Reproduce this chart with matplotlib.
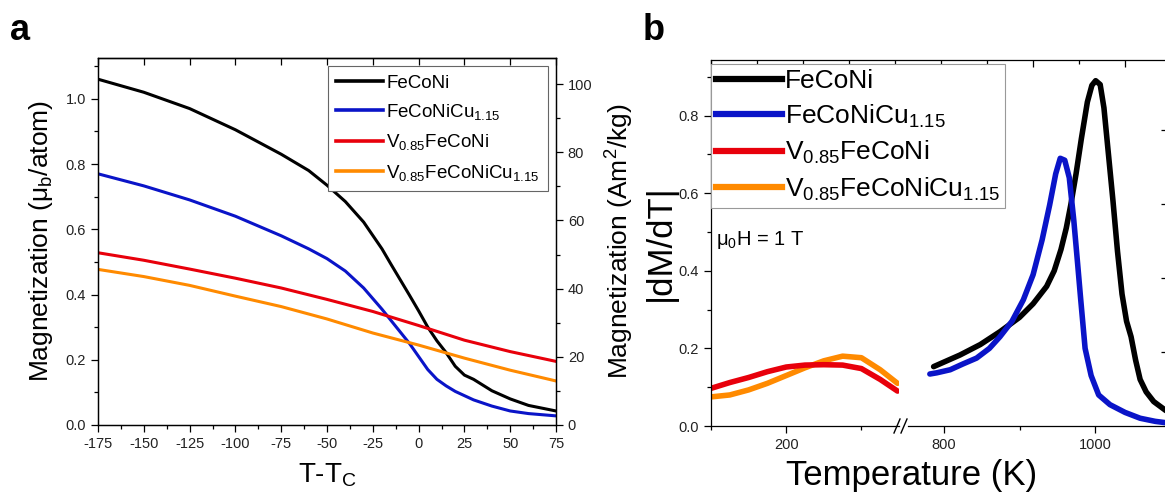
import numpy as np
import matplotlib
matplotlib.use('Agg')
import matplotlib.pyplot as plt
from matplotlib.ticker import MultipleLocator, FormatStrFormatter
from matplotlib.lines import Line2D

plt.rcParams['font.family'] = ['Liberation Sans', 'DejaVu Sans']
plt.rcParams['mathtext.fontset'] = 'custom'
plt.rcParams['mathtext.rm'] = 'Liberation Sans'
plt.rcParams['mathtext.it'] = 'Liberation Sans:italic'
plt.rcParams['mathtext.bf'] = 'Liberation Sans:bold'
plt.rcParams['axes.linewidth'] = 0.9
plt.rcParams['axes.unicode_minus'] = False

# ---- panel a data: magnetization vs T-Tc
t_feconi = [-175, -150, -125, -100, -75, -60, -50, -40, -30, -20, -15, -10, -5, 0, 5, 10, 15, 20, 25, 30, 40, 50, 60, 75]
m_feconi = [1.06, 1.02, 0.97, 0.905, 0.83, 0.78, 0.735, 0.685, 0.622, 0.54, 0.492, 0.445, 0.398, 0.35, 0.30, 0.258, 0.222, 0.18, 0.153, 0.14, 0.105, 0.08, 0.06, 0.043]
t_cu = [-175, -150, -125, -100, -75, -60, -50, -40, -30, -20, -10, -5, 0, 5, 10, 15, 20, 30, 40, 50, 60, 75]
m_cu = [0.77, 0.733, 0.69, 0.64, 0.58, 0.54, 0.51, 0.472, 0.42, 0.355, 0.285, 0.25, 0.21, 0.17, 0.14, 0.12, 0.103, 0.077, 0.058, 0.043, 0.035, 0.028]
t_v = [-175, -150, -125, -100, -75, -50, -25, 0, 25, 50, 75]
m_v = [0.528, 0.505, 0.478, 0.45, 0.42, 0.385, 0.348, 0.305, 0.26, 0.225, 0.195]
m_vcu = [0.477, 0.455, 0.428, 0.395, 0.363, 0.325, 0.282, 0.245, 0.205, 0.168, 0.135]

# ---- panel b data: |dM/dT| vs temperature
tb_low = [100, 125, 150, 175, 200, 225, 250, 275, 300, 325, 348]
d_v = [0.097, 0.112, 0.125, 0.14, 0.152, 0.157, 0.158, 0.157, 0.148, 0.12, 0.09]
d_vcu = [0.075, 0.08, 0.093, 0.11, 0.13, 0.15, 0.168, 0.18, 0.176, 0.145, 0.11]
tb_feconi = [786, 800, 821, 848, 874, 900, 918, 936, 946, 955, 962, 968, 975, 982, 990, 996, 1001, 1007,
             1012, 1018, 1024, 1030, 1036, 1042, 1048, 1054, 1060, 1068, 1078, 1094, 1100]
d_feconi = [0.153, 0.165, 0.183, 0.21, 0.243, 0.28, 0.315, 0.36, 0.40, 0.455, 0.51, 0.57, 0.65, 0.74, 0.835, 0.878, 0.89, 0.88,
            0.82, 0.70, 0.58, 0.45, 0.34, 0.27, 0.23, 0.17, 0.12, 0.088, 0.063, 0.04, 0.035]
tb_cu = [781, 790, 808, 825, 843, 860, 874, 890, 905, 918, 930, 940, 948, 954, 960, 966, 972, 977, 981, 987,
         995, 1005, 1020, 1040, 1060, 1080, 1100]
d_cu = [0.134, 0.137, 0.145, 0.16, 0.175, 0.2, 0.23, 0.27, 0.325, 0.39, 0.48, 0.57, 0.65, 0.69, 0.685, 0.64, 0.53, 0.42, 0.33, 0.2,
        0.13, 0.08, 0.055, 0.035, 0.02, 0.012, 0.007]

labels = ['FeCoNi', r'FeCoNiCu$_{\mathregular{1.15}}$', r'V$_{\mathregular{0.85}}$FeCoNi',
          r'V$_{\mathregular{0.85}}$FeCoNiCu$_{\mathregular{1.15}}$']
colors = ['black', '#0a14c8', '#e8000b', '#ff8a00']

W, H = 1165, 499
def box(x0, y0, x1, y1):
    return [x0 / W, 1 - y1 / H, (x1 - x0) / W, (y1 - y0) / H]

fig = plt.figure(figsize=(W / 100, H / 100), dpi=100)
tick_col = '#222222'

# ================= panel a
ax = fig.add_axes(box(98, 58, 556, 425))
ax.plot(t_feconi, m_feconi, color=colors[0], lw=2.2)
ax.plot(t_cu, m_cu, color=colors[1], lw=2.2)
ax.plot(t_v, m_v, color=colors[2], lw=2.2)
ax.plot(t_v, m_vcu, color=colors[3], lw=2.2)
ax.set_xlim(-175, 75)
ax.set_ylim(0, 1.125)
ax.xaxis.set_major_locator(MultipleLocator(25))
ax.xaxis.set_minor_locator(MultipleLocator(12.5))
ax.yaxis.set_major_locator(MultipleLocator(0.2))
ax.yaxis.set_minor_locator(MultipleLocator(0.1))
ax.yaxis.set_major_formatter(FormatStrFormatter('%.1f'))
ax.tick_params(which='major', direction='out', length=5, width=0.9, labelsize=10.5, labelcolor=tick_col)
ax.tick_params(which='minor', direction='out', length=3, width=0.9)
ax.set_xlabel(r'T-T$_{\mathregular{C}}$', fontsize=20, labelpad=8)
ax.set_ylabel(r'Magnetization (μ$_{\mathregular{b}}$/atom)', fontsize=19, labelpad=8)
top = ax.secondary_xaxis('top')
top.xaxis.set_major_locator(MultipleLocator(25))
top.tick_params(direction='in', length=5, width=0.9, labeltop=False)

axr = ax.twinx()
axr.set_ylim(0, 1.125 * 95.7)
axr.yaxis.set_major_locator(MultipleLocator(20))
axr.yaxis.set_minor_locator(MultipleLocator(10))
axr.tick_params(which='major', direction='out', length=5, width=0.9, labelsize=10.5, labelcolor=tick_col)
axr.tick_params(which='minor', direction='out', length=3, width=0.9)
axr.set_ylabel(r'Magnetization (Am$^{\mathregular{2}}$/kg)', fontsize=19, labelpad=8)

handles = [Line2D([], [], color=c, lw=2.6) for c in colors]
leg = ax.legend(handles, labels, loc='upper left', bbox_to_anchor=(0.502, 0.978), fontsize=13.5,
                frameon=True, fancybox=False, edgecolor='#666666', framealpha=1,
                handlelength=2.5, handletextpad=0.15, borderpad=0.45, labelspacing=0.55, borderaxespad=0)
leg.get_frame().set_linewidth(0.8)

fig.text(10 / W, 1 - 40 / H, 'a', fontsize=26, fontweight='bold')

# ================= panel b (broken x axis)
frame = fig.add_axes(box(711, 60, 1168, 426))
frame.patch.set_visible(False)
frame.spines['left'].set_visible(False)
frame.spines['bottom'].set_visible(False)
frame.set_xlim(0, 457 / 46)
frame.set_ylim(0, 366 / 74)
frame.set_xticks(np.arange(1, 10, 2))
frame.set_xticks(np.arange(0, 10, 2), minor=True)
frame.set_yticks(np.arange(1, 5))
frame.tick_params(which='both', bottom=False, left=False, labelbottom=False, labelleft=False,
                  top=True, right=True, direction='in', width=0.9)
frame.tick_params(which='major', length=5)
frame.tick_params(which='minor', length=3)

axl = fig.add_axes(box(711, 60, 899, 426))
axh = fig.add_axes(box(908, 60, 1168, 426))
for a in (axl, axh):
    a.patch.set_visible(False)
    a.spines['top'].set_visible(False)
    a.spines['right'].set_visible(False)
    a.set_ylim(0, 366 / 388)
    a.xaxis.set_major_locator(MultipleLocator(200))
    a.xaxis.set_minor_locator(MultipleLocator(100))
    a.tick_params(which='major', direction='out', length=5, width=0.9, labelsize=10.5, labelcolor=tick_col)
    a.tick_params(which='minor', direction='out', length=3, width=0.9)
axh.spines['left'].set_visible(False)
axh.tick_params(which='both', left=False, labelleft=False)
axl.set_xlim(100, 350)
axh.set_xlim(752, 1097)
axl.yaxis.set_major_locator(MultipleLocator(0.2))
axl.yaxis.set_minor_locator(MultipleLocator(0.1))
axl.yaxis.set_major_formatter(FormatStrFormatter('%.1f'))

lw_b = 4
axl.plot(tb_low, d_vcu, color=colors[3], lw=lw_b, solid_capstyle='round')
axl.plot(tb_low, d_v, color=colors[2], lw=lw_b, solid_capstyle='round')
axh.plot(tb_feconi, d_feconi, color=colors[0], lw=lw_b, solid_capstyle='round')
axh.plot(tb_cu, d_cu, color=colors[1], lw=lw_b, solid_capstyle='round')

axl.set_ylabel('|dM/dT|', fontsize=25, labelpad=1)
fig.text(912 / W, 1 - 476 / H, 'Temperature (K)', fontsize=25, ha='center', va='center')

# break marks
for dx in (0, 7):
    fig.add_artist(Line2D([(894 + dx) / W, (900 + dx) / W], [1 - 433 / H, 1 - 419 / H], color='black', lw=1))

handles_b = [Line2D([], [], color=c, lw=4.5) for c in colors]
legb = fig.legend(handles_b, labels, loc='upper left', bbox_to_anchor=(711 / W, 1 - 64 / H), fontsize=19,
                  frameon=True, fancybox=False, edgecolor='#999999', framealpha=1,
                  handlelength=2.5, handletextpad=0.1, borderpad=0.2, labelspacing=0.35, borderaxespad=0)
legb.get_frame().set_linewidth(0.8)

fig.text(716 / W, 1 - 240 / H, r'μ$_{\mathregular{0}}$H = 1 T', fontsize=14.5, va='center')
fig.text(643 / W, 1 - 40 / H, 'b', fontsize=26, fontweight='bold')

fig.savefig('out.png', dpi=100)
